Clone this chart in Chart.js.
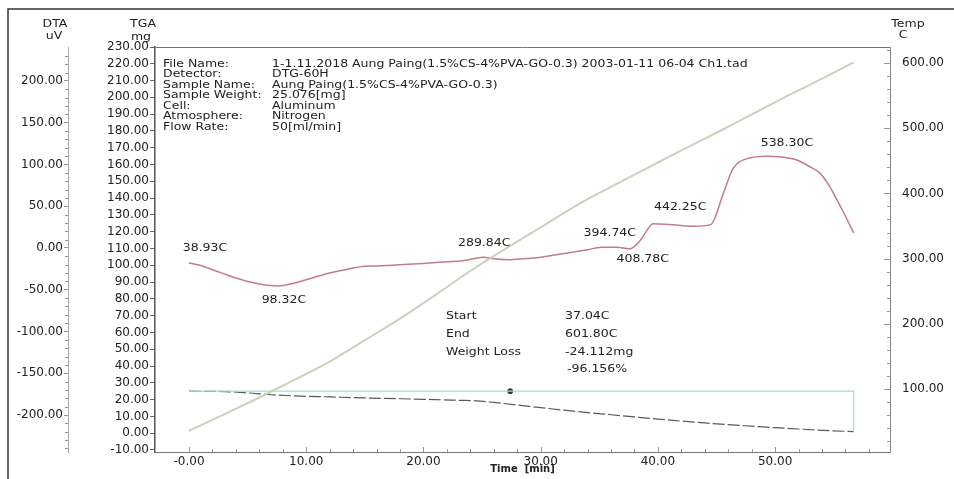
<!DOCTYPE html>
<html>
<head>
<meta charset="utf-8">
<script src="https://cdn.jsdelivr.net/npm/chart.js@4.4.1/dist/chart.umd.min.js"></script>
<style>
  html, body { margin: 0; padding: 0; background: #fff; }
  #wrap { width: 954px; height: 479px; }
</style>
</head>
<body>
<div id="wrap"><canvas id="taChart" width="954" height="479"></canvas></div>
<script>
// DTA / TGA run of Aung Paing(1.5%CS-4%PVA-GO-0.3)

const timeDTA = [0, 1, 2, 3, 4, 5, 6, 7, 7.5, 8, 9, 10.5, 12, 13, 14, 15, 16, 18, 20, 22,
  23.5, 25.1, 26, 27.2, 28.5, 30, 32, 34, 35.3, 36.5, 37.6, 38.5, 39.6, 41, 43, 44.5,
  45.6, 46.4, 47.6, 49.3, 50.5, 51.9, 53, 53.8, 54.6, 55.3, 56, 56.7];
const dtaValues = [-18, -21, -26, -31, -36, -40, -43, -45, -45.5, -45, -42, -36, -30, -27, -24, -22, -21.5, -20, -18.5, -16.5,
  -15, -11, -13, -14, -13, -11, -6.5, -2, 1, 1, -1, 9, 29, 28, 26, 28,
  66, 95, 107, 110, 109, 105, 97, 90, 75, 57, 38, 18];

const timeTGA = [0, 3, 5, 7, 9, 12, 15, 18, 21, 23, 24.5, 26, 28, 30, 32, 34, 36, 38, 40, 42, 44, 46, 48, 50, 52, 54, 56.7];
const tgaValues = [25.0, 24.8, 24.0, 22.9, 22.2, 21.6, 21.0, 20.5, 20.0, 19.6, 19.3, 18.3, 16.8, 15.2, 13.7, 12.3, 11.0,
  9.7, 8.4, 7.2, 6.1, 5.1, 4.2, 3.3, 2.5, 1.7, 0.96];

const timeTemp = [0, 3, 6, 9, 12, 15, 18, 21, 24, 27, 30, 33, 36, 39, 42, 45, 48, 51, 54, 56.7];
const tempValues = [36, 61, 87, 114, 142, 175, 208, 244, 281, 315, 348, 381, 410, 438, 466, 493, 521, 549, 576, 601];

// weight loss bracket from the analysis
const bracketTime = [0, 56.7, 56.7];
const bracketWeight = [25.0, 25.0, 0.96];
const markerTime = [27.4];
const markerWeight = [25.0];

const peakLabels = ['38.93C', '98.32C', '289.84C', '394.74C', '408.78C', '442.25C', '538.30C'];
const peakTimes = [0, 7.5, 25.1, 35.3, 37.6, 39.6, 49.3];
const peakDTA = [-18, -45.5, -11, 1, -1, 29, 110];

const xTickValues = [0, 10, 20, 30, 40, 50];
const xTickLabels = ['-0.00', '10.00', '20.00', '30.00', '40.00', '50.00'];
const dtaTicks = [-200, -150, -100, -50, 0, 50, 100, 150, 200];
const tgaTicks = [-10, 0, 10, 20, 30, 40, 50, 60, 70, 80, 90, 100, 110, 120, 130, 140, 150, 160, 170, 180, 190, 200, 210, 220, 230];
const tempTicks = [100, 200, 300, 400, 500, 600];

const infoKeys = ['File Name:', 'Detector:', 'Sample Name:', 'Sample Weight:', 'Cell:', 'Atmosphere:', 'Flow Rate:'];
const infoValues = ['1-1.11.2018 Aung Paing(1.5%CS-4%PVA-GO-0.3) 2003-01-11 06-04 Ch1.tad', 'DTG-60H',
  'Aung Paing(1.5%CS-4%PVA-GO-0.3)', '25.076[mg]', 'Aluminum', 'Nitrogen', '50[ml/min]'];
const resultKeys = ['Start', 'End', 'Weight Loss', ''];
const resultValues = ['37.04C', '601.80C', '-24.112mg', '-96.156%'];

const FONT = '"DejaVu Sans", sans-serif';
const INK = '#222';

function pairs(xs, ys) {
  return xs.map((x, i) => ({ x: x, y: ys[i] }));
}

// the printout text is a bit wider than normal glyphs
function wideText(ctx, str, x, y, align) {
  ctx.save();
  ctx.translate(x, y);
  ctx.scale(1.25, 1);
  ctx.textAlign = align || 'left';
  ctx.fillText(str, 0, 0);
  ctx.restore();
}

function fixTicks(values) {
  return function (scale) {
    scale.ticks = values.map(v => ({ value: v }));
  };
}

const decorations = {
  id: 'decorations',
  afterDraw(chart) {
    const ctx = chart.ctx;
    const area = chart.chartArea;
    const sx = chart.scales.x, sd = chart.scales.dta, st = chart.scales.temp;
    ctx.save();

    // page frame
    ctx.strokeStyle = '#333';
    ctx.lineWidth = 1.5;
    ctx.beginPath();
    ctx.moveTo(8, 479);
    ctx.lineTo(8, 9);
    ctx.lineTo(954, 9);
    ctx.stroke();

    // top edge of the plot box
    ctx.strokeStyle = '#777';
    ctx.lineWidth = 1;
    ctx.beginPath();
    ctx.moveTo(area.left, area.top + 0.5);
    ctx.lineTo(area.right, area.top + 0.5);
    ctx.stroke();

    // small ticks
    ctx.strokeStyle = '#999';
    ctx.beginPath();
    for (let t = 0; t <= 58; t += 2) {
      const px = Math.round(sx.getPixelForValue(t)) + 0.5;
      const len = t % 10 === 0 ? 5 : 3;
      ctx.moveTo(px, area.bottom);
      ctx.lineTo(px, area.bottom - len);
    }
    for (let v = -240; v <= 230; v += 10) {
      if (v % 50 === 0) continue;
      const py = Math.round(sd.getPixelForValue(v)) + 0.5;
      ctx.moveTo(sd.right, py);
      ctx.lineTo(sd.right - 3, py);
    }
    for (let v = 20; v <= 620; v += 20) {
      const py = Math.round(st.getPixelForValue(v)) + 0.5;
      const len = v % 100 === 0 ? 6 : 3;
      ctx.moveTo(st.left, py);
      ctx.lineTo(st.left - len, py);
    }
    ctx.stroke();

    ctx.fillStyle = INK;
    ctx.font = '10px ' + FONT;
    ctx.textBaseline = 'middle';

    // axis captions
    wideText(ctx, 'DTA', 55, 24, 'center');
    wideText(ctx, 'uV', 54, 36, 'center');
    wideText(ctx, 'TGA', 143, 24, 'center');
    wideText(ctx, 'mg', 141, 37, 'center');
    wideText(ctx, 'Temp', 908, 24, 'center');
    wideText(ctx, 'C', 903, 35, 'center');

    // run information
    infoKeys.forEach((k, i) => {
      const y = 64 + i * 10.5;
      wideText(ctx, k, area.left + 8, y);
      wideText(ctx, infoValues[i], 272, y);
    });

    // weight loss result
    const rowY = [316, 334, 352, 369];
    resultKeys.forEach((k, i) => {
      if (k) wideText(ctx, k, 446, rowY[i]);
      wideText(ctx, resultValues[i], i === 3 ? 567 : 565, rowY[i]);
    });

    // peak temperatures on the DTA curve
    const offsets = [[16, -15], [7, 14], [1, -14], [7, -14], [13, 11], [27, -16], [20, -13]];
    peakLabels.forEach((lab, i) => {
      const px = sx.getPixelForValue(peakTimes[i]) + offsets[i][0];
      const py = sd.getPixelForValue(peakDTA[i]) + offsets[i][1];
      wideText(ctx, lab, px, py, 'center');
    });

    ctx.restore();
  }
};

const tickFont = { family: FONT, size: 12 };

new Chart(document.getElementById('taChart'), {
  type: 'scatter',
  data: {
    datasets: [
      {
        label: 'Temp',
        data: pairs(timeTemp, tempValues),
        yAxisID: 'temp',
        showLine: true,
        borderColor: '#cfcfbd',
        borderWidth: 2,
        pointRadius: 0,
        cubicInterpolationMode: 'monotone',
      },
      {
        label: 'DTA',
        data: pairs(timeDTA, dtaValues),
        yAxisID: 'dta',
        showLine: true,
        borderColor: '#c27b8c',
        borderWidth: 1.5,
        pointRadius: 0,
        cubicInterpolationMode: 'monotone',
      },
      {
        label: 'Weight loss',
        data: pairs(bracketTime, bracketWeight),
        yAxisID: 'tga',
        showLine: true,
        borderColor: '#a6dada',
        borderWidth: 1.2,
        pointRadius: 0,
      },
      {
        label: 'TGA',
        data: pairs(timeTGA, tgaValues),
        yAxisID: 'tga',
        showLine: true,
        borderColor: '#5a5a5a',
        borderWidth: 1.2,
        borderDash: [12, 3],
        pointRadius: 0,
        cubicInterpolationMode: 'monotone',
      },
      {
        label: 'Mark',
        data: pairs(markerTime, markerWeight),
        yAxisID: 'tga',
        pointRadius: 2.5,
        pointBackgroundColor: '#333',
        pointBorderColor: '#333',
      },
    ],
  },
  options: {
    responsive: false,
    animation: false,
    devicePixelRatio: 1,
    layout: { padding: { top: 47, left: 0, right: 0, bottom: 0 } },
    plugins: {
      legend: { display: false },
      tooltip: { enabled: false },
    },
    scales: {
      x: {
        type: 'linear',
        position: 'bottom',
        min: -2.9,
        max: 59.8,
        afterBuildTicks: fixTicks(xTickValues),
        afterFit: (scale) => { scale.height = 27; },
        grid: { drawOnChartArea: false, drawTicks: false },
        border: { color: '#777', width: 1 },
        ticks: {
          autoSkip: false,
          maxRotation: 0,
          padding: 3,
          color: INK,
          font: tickFont,
          callback: (v) => {
            const i = xTickValues.indexOf(v);
            return i >= 0 ? xTickLabels[i] : '';
          },
        },
        title: {
          display: true,
          text: 'Time  [min]',
          color: INK,
          font: { family: FONT, size: 10, weight: 'bold' },
          padding: { top: 0, bottom: 4 },
        },
      },
      dta: {
        type: 'linear',
        position: 'left',
        weight: 2,
        min: -244.3,
        max: 240.7,
        afterBuildTicks: fixTicks(dtaTicks),
        afterFit: (scale) => { scale.width = 68; },
        grid: { drawOnChartArea: false, tickLength: 4, color: '#999' },
        border: { color: '#aaa', width: 1, dash: [2, 2] },
        ticks: {
          autoSkip: false,
          padding: 1,
          color: INK,
          font: tickFont,
          callback: (v) => v.toFixed(2),
        },
      },
      tga: {
        type: 'linear',
        position: 'left',
        weight: 1,
        min: -11.2,
        max: 230,
        afterBuildTicks: fixTicks(tgaTicks),
        afterFit: (scale) => { scale.width = 87; },
        grid: { drawOnChartArea: false, tickLength: 5, color: '#666' },
        border: { color: '#555', width: 1.5 },
        ticks: {
          autoSkip: false,
          padding: 1,
          color: INK,
          font: tickFont,
          callback: (v) => v.toFixed(2),
        },
      },
      temp: {
        type: 'linear',
        position: 'right',
        min: 3.4,
        max: 624.5,
        afterBuildTicks: fixTicks(tempTicks),
        afterFit: (scale) => { scale.width = 64; },
        grid: { drawOnChartArea: false, drawTicks: false },
        border: { color: '#888', width: 1 },
        ticks: {
          autoSkip: false,
          padding: 12,
          color: INK,
          font: tickFont,
          callback: (v) => v.toFixed(2),
        },
      },
    },
  },
  plugins: [decorations],
});
</script>
</body>
</html>
